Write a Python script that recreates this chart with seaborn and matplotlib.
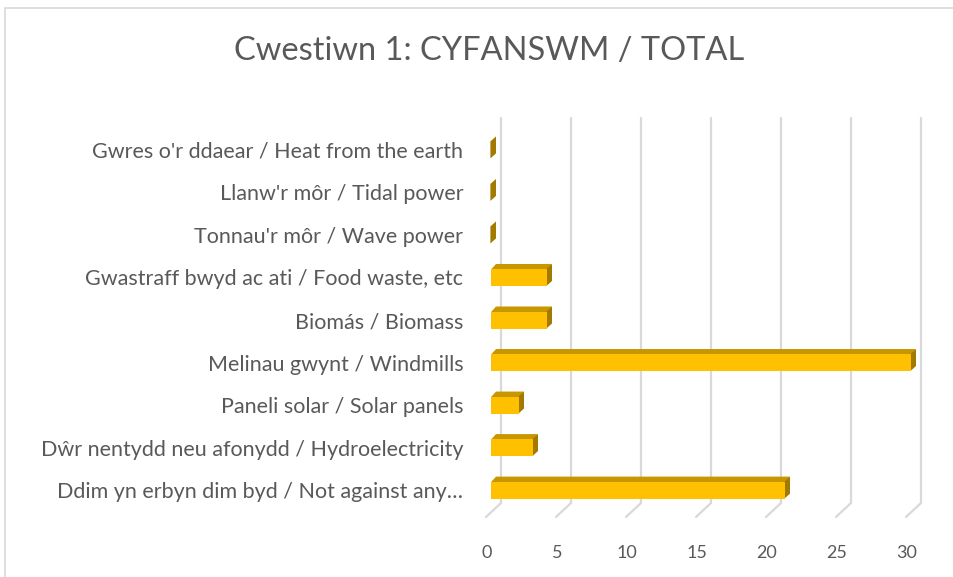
import matplotlib
matplotlib.use("Agg")
import matplotlib.pyplot as plt
import matplotlib.transforms as mtransforms
from matplotlib.patches import Polygon, Rectangle
import seaborn as sns
import pandas as pd

# datos del grafico
categorias = [
    "Gwres o'r ddaear / Heat from the earth",
    "Llanw'r môr / Tidal power",
    "Tonnau'r môr / Wave power",
    "Gwastraff bwyd ac ati / Food waste, etc",
    "Biomás / Biomass",
    "Melinau gwynt / Windmills",
    "Paneli solar / Solar panels",
    "Dŵr nentydd neu afonydd / Hydroelectricity",
    "Ddim yn erbyn dim byd / Not against any…",
]
valores = [0, 0, 0, 4, 4, 30, 2, 3, 21]
ticks_x = [0, 5, 10, 15, 20, 25, 30]
titulo = "Cwestiwn 1: CYFANSWM / TOTAL"

color_frente = "#FFC000"
color_arriba = "#C89600"
color_lado = "#A27A00"
gris_texto = "#595959"
gris_grid = "#D9D9D9"

sns.set_theme(style="white")
plt.rcParams['font.family'] = ['Lato', 'DejaVu Sans']

W, H = 954, 577
fig = plt.figure(figsize=(W / 100, H / 100), dpi=100)
fig.patch.set_facecolor("white")

# marco del area del grafico
fig.patches.append(Rectangle((5 / W, -0.1), 1.1, 1.1 - 8 / H, transform=fig.transFigure,
                             fill=False, edgecolor=gris_grid, linewidth=1.2))

ax = fig.add_axes([491 / W, 1 - 505 / H, (911 - 491) / W, (505 - 118) / H])
ax.set_facecolor("none")

df = pd.DataFrame({"categoria": categorias, "valor": valores})
sns.barplot(data=df, x="valor", y="categoria", orient="h", color=color_frente,
            saturation=1, width=0.4, ax=ax, zorder=3, linewidth=0, edgecolor="none")

ax.set_xlim(0, 30)
ax.set_ylim(8.35, -0.75)
for s in ax.spines.values():
    s.set_visible(False)
ax.set_xlabel("")
ax.set_ylabel("")
ax.set_xticks(ticks_x)
ax.tick_params(axis="x", length=0, pad=29, labelsize=13, labelcolor=gris_texto)
ax.tick_params(axis="y", length=0, pad=20, labelsize=15.5, labelcolor=gris_texto)
for lbl in ax.get_xticklabels():
    lbl.set_transform(lbl.get_transform() + mtransforms.ScaledTranslation(-4 / 100, 0, fig.dpi_scale_trans))

# efecto 3D: caras superior y lateral calculadas a partir de las barras
ident = mtransforms.IdentityTransform()
dx, dy = 5, 5  # profundidad en pixeles
for p in list(ax.patches):
    x0, y0 = p.get_x(), p.get_y()
    x1, y1 = x0 + p.get_width(), y0 + p.get_height()
    (ax0, ay_top), = ax.transData.transform([(x0, y0)])
    (ax1, ay_bot), = ax.transData.transform([(x1, y1)])
    top = max(ay_top, ay_bot)
    bot = min(ay_top, ay_bot)
    cara_sup = Polygon([(ax0, top - 0.6), (ax1, top - 0.6), (ax1 + dx, top + dy), (ax0 + dx, top + dy)],
                       closed=True, transform=ident, facecolor=color_arriba, edgecolor="none",
                       zorder=2.9, clip_on=False)
    cara_lat = Polygon([(ax1 - 0.6, bot), (ax1 + dx, bot + dy), (ax1 + dx, top + dy), (ax1 - 0.6, top)],
                       closed=True, transform=ident, facecolor=color_lado, edgecolor="none",
                       zorder=2.9, clip_on=False)
    ax.add_patch(cara_sup)
    ax.add_patch(cara_lat)

# lineas de cuadricula en el plano de fondo
for t in ticks_x:
    (gx, gy0), = ax.transData.transform([(t, 8.35)])
    gy_top = H - 118
    gy_bot = H - 503
    gx = gx + 10
    ax.plot([gx, gx], [gy_bot, gy_top], color=gris_grid, lw=1.6, transform=ident,
            clip_on=False, zorder=1)
    ax.plot([gx, gx - 15], [gy_bot, gy_bot - 14], color=gris_grid, lw=1.6, transform=ident,
            clip_on=False, zorder=1)

fig.text(489 / W, 1 - 51 / H, titulo, ha="center", va="center", fontsize=23.5, color=gris_texto)

fig.savefig("out.png", dpi=100, facecolor="white")
